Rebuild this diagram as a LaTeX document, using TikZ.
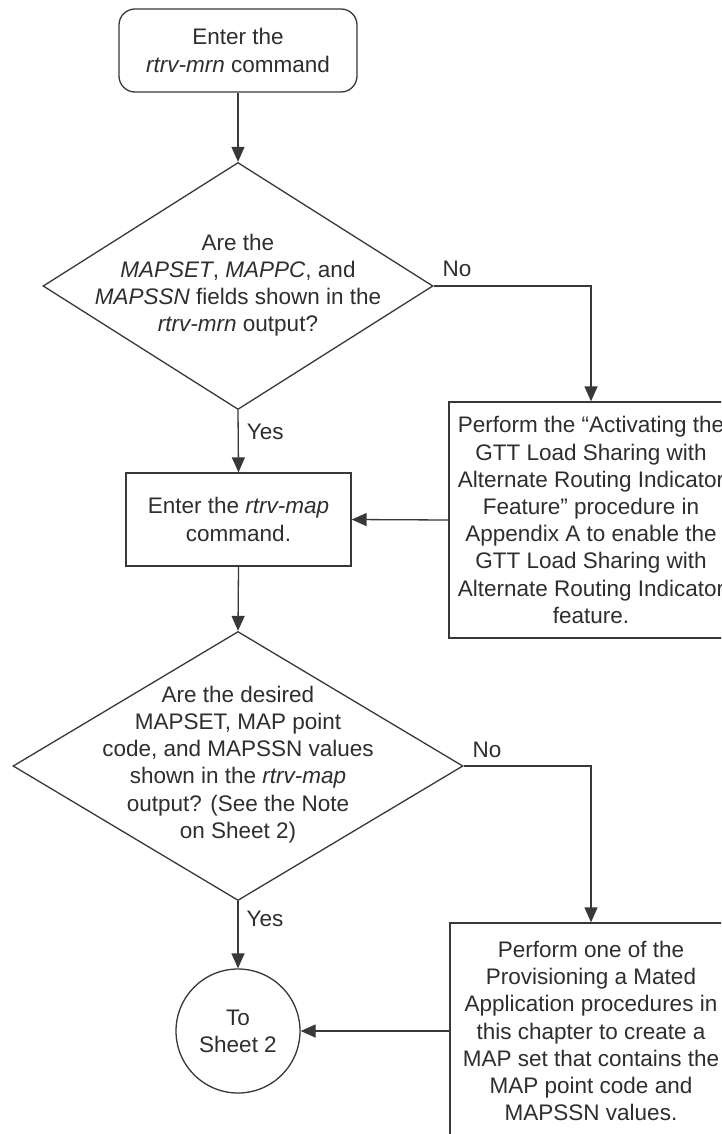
\documentclass[tikz,border=0pt]{standalone}
\usepackage{fontspec}
\setmainfont{Liberation Sans}
\usetikzlibrary{arrows.meta,shapes.geometric}
\definecolor{linec}{HTML}{383838}
\definecolor{textc}{HTML}{2E2E2E}
\tikzset{
  every node/.style={text=textc, font={\fontsize{22.5}{27.2}\selectfont}},
  shapeline/.style={draw=linec, line width=1.3pt},
  startbox/.style={shapeline, rectangle, rounded corners=16pt, inner sep=0pt, align=center},
  procbox/.style={shapeline, rectangle, inner sep=0pt, align=center},
  decision/.style={shapeline, diamond, inner sep=0pt},
  termcirc/.style={shapeline, circle, inner sep=0pt, minimum size=124pt, align=center},
  flowtext/.style={align=center, inner sep=0pt},
  lbl/.style={inner sep=0pt},
  conn/.style={draw=linec, line width=1.3pt, -{Triangle[length=15pt,width=13pt]}},
}
\begin{document}
\begin{tikzpicture}[x=1pt,y=-1pt]
\useasboundingbox (0,0) rectangle (721,1134);
\clip (0,0) rectangle (721,1134);
\fill[white] (0,0) rectangle (721,1134);

\node[startbox, minimum width=238pt, minimum height=83pt] (start) at (238,50.5)
  {Enter the\\\textit{rtrv-mrn} command};

\node[decision, minimum width=390pt, minimum height=247pt] (d1) at (238,286) {};
\node[flowtext] (d1t) at (238,285) {Are the\\\textit{MAPSET}, \textit{MAPPC}, and\\\textit{MAPSSN} fields shown in the\\\textit{rtrv-mrn} output?};

\node[procbox, minimum width=284pt, minimum height=236pt] (p1) at (591,520)
  {Perform the “Activating the\\GTT Load Sharing with\\Alternate Routing Indicator\\Feature” procedure in\\Appendix A to enable the\\GTT Load Sharing with\\Alternate Routing Indicator\\feature.};

\node[procbox, minimum width=225pt, minimum height=93pt] (b1) at (238.5,519.5)
  {Enter the \textit{rtrv-map}\\command.};

\node[decision, minimum width=450pt, minimum height=269pt] (d2) at (238,766) {};
\node[flowtext] (d2t) at (238,764.5) {Are the desired\\MAPSET, MAP point\\code, and MAPSSN values\\shown in the \textit{rtrv-map}\\output? (See the Note\\on Sheet 2)};

\node[procbox, minimum width=282pt, minimum height=216pt] (p2) at (591,1031)
  {Perform one of the\\Provisioning a Mated\\Application procedures in\\this chapter to create a\\MAP set that contains the\\MAP point code and\\MAPSSN values.};

\node[termcirc] (c) at (238,1031) {To\\Sheet 2};

\draw[conn] (start.south) -- (d1.north);
\draw[conn] (d1.south) -- node[lbl, right=8pt, pos=0.35] (yes1) {Yes} (b1.north);
\draw[conn] (d1.east) -| (p1.north);
\node[lbl] (no1) at (457,269) {No};
\draw[conn] (p1.west) -- (b1.east);
\draw[conn] (b1.south) -- (d2.north);
\draw[conn] (d2.east) -| (p2.north);
\node[lbl] (no2) at (487,750) {No};
\draw[conn] (d2.south) -- node[lbl, right=8pt, pos=0.27] (yes2) {Yes} (c.north);
\draw[conn] (p2.west) -- (c.east);
\end{tikzpicture}
\end{document}
